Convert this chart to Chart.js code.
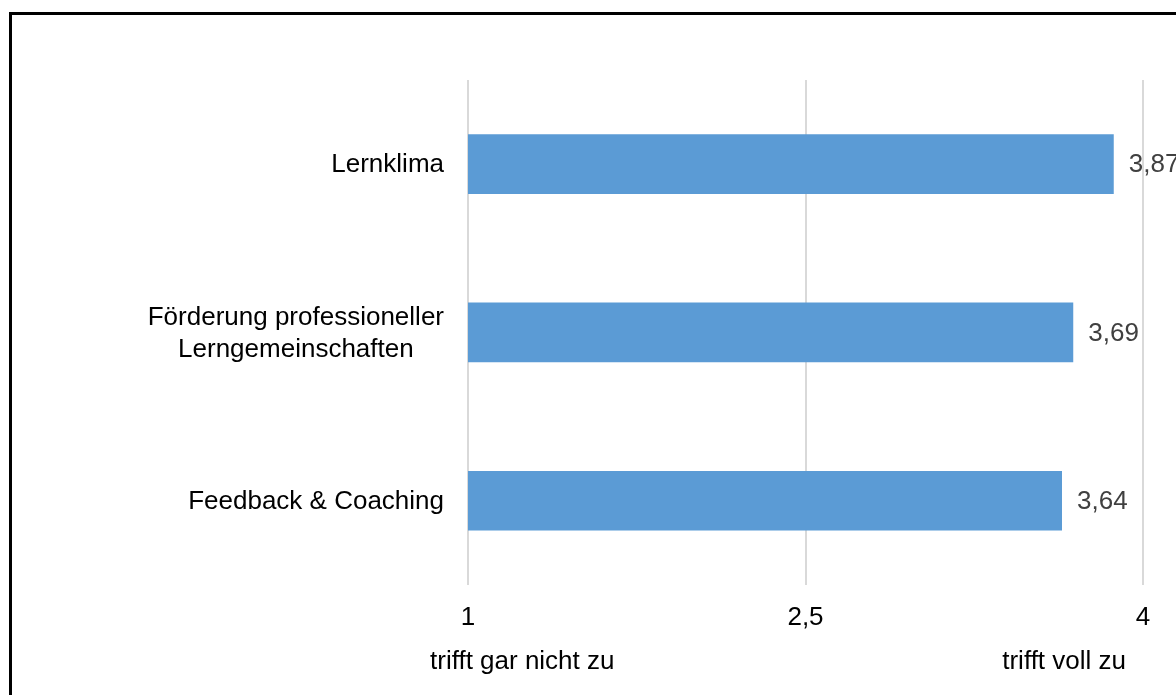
<!DOCTYPE html>
<html lang="de">
<head>
  <meta charset="UTF-8" />
  <title>Lernklima</title>
  <script src="https://cdn.jsdelivr.net/npm/chart.js"></script>
  <style>
    html, body {
      margin: 0;
      padding: 0;
      background: #fff;
      overflow: hidden;
    }
    .wrap {
      position: relative;
      width: 1176px;
      height: 695px;
      overflow: hidden;
    }
    .frame {
      position: absolute;
      left: 9px;
      top: 12px;
      width: 2000px;
      height: 2000px;
      border: 3px solid #000;
      pointer-events: none;
    }
    canvas {
      position: absolute;
      left: 0;
      top: 0;
    }
  </style>
</head>
<body>
  <div class="wrap">
    <canvas id="barChart" width="1176" height="695"></canvas>
    <div class="frame"></div>
  </div>

  <script>
    const categories = [
      'Lernklima',
      ['Förderung professioneller', 'Lerngemeinschaften'],
      'Feedback & Coaching'
    ];
    const values = [3.87, 3.69, 3.64];
    const tickValues = [1, 2.5, 4];
    const scaleEndLabels = ['trifft gar nicht zu', 'trifft voll zu'];

    const FONT = '"Liberation Sans", Arial, sans-serif';
    const fmt = v => String(v).replace('.', ',');

    // category labels: block right-aligned at the axis, lines centered inside the block
    const categoryLabels = {
      id: 'categoryLabels',
      afterDraw(chart) {
        const ctx = chart.ctx;
        const y = chart.scales.y;
        const area = chart.chartArea;
        ctx.save();
        ctx.font = '26px ' + FONT;
        ctx.fillStyle = '#000';
        ctx.textBaseline = 'middle';
        ctx.textAlign = 'center';
        categories.forEach((lab, i) => {
          const lines = Array.isArray(lab) ? lab : [lab];
          const w = Math.max(...lines.map(l => ctx.measureText(l).width));
          const cx = area.left - 24 - w / 2;
          const cy = y.getPixelForValue(i) + 1;
          const lh = 32;
          lines.forEach((l, j) => {
            ctx.fillText(l, cx, cy + (j - (lines.length - 1) / 2) * lh);
          });
        });
        ctx.restore();
      }
    };

    // value labels right of the bars
    const valueLabels = {
      id: 'valueLabels',
      afterDatasetsDraw(chart) {
        const ctx = chart.ctx;
        const meta = chart.getDatasetMeta(0);
        ctx.save();
        ctx.font = '26px ' + FONT;
        ctx.fillStyle = '#404040';
        ctx.textBaseline = 'middle';
        ctx.textAlign = 'left';
        meta.data.forEach((bar, i) => {
          ctx.fillText(fmt(values[i]), bar.x + 15, bar.y + 1);
        });
        ctx.restore();
      }
    };

    // "trifft gar nicht zu" / "trifft voll zu" under the end ticks
    const endLabels = {
      id: 'endLabels',
      afterDraw(chart) {
        const ctx = chart.ctx;
        const x = chart.scales.x;
        const yPos = chart.chartArea.bottom + 77;
        ctx.save();
        ctx.font = '26px ' + FONT;
        ctx.fillStyle = '#000';
        ctx.textBaseline = 'middle';
        ctx.textAlign = 'left';
        ctx.fillText(scaleEndLabels[0], x.getPixelForValue(tickValues[0]) - 38, yPos);
        ctx.textAlign = 'right';
        ctx.fillText(scaleEndLabels[1], x.getPixelForValue(tickValues[2]) - 17, yPos);
        ctx.restore();
      }
    };

    new Chart(document.getElementById('barChart').getContext('2d'), {
      type: 'bar',
      data: {
        labels: categories,
        datasets: [{
          data: values,
          backgroundColor: '#5b9bd5',
          borderWidth: 0,
          categoryPercentage: 0.354,
          barPercentage: 1
        }]
      },
      options: {
        indexAxis: 'y',
        responsive: false,
        animation: false,
        layout: {
          padding: { left: 468, right: 33, top: 80, bottom: 45 }
        },
        plugins: {
          legend: { display: false },
          tooltip: { enabled: false }
        },
        scales: {
          x: {
            min: 1,
            max: 4,
            afterBuildTicks: axis => {
              axis.ticks = tickValues.map(v => ({ value: v }));
            },
            ticks: {
              color: '#000',
              font: { family: FONT, size: 26 },
              padding: 17,
              maxRotation: 0,
              callback: v => fmt(v)
            },
            grid: {
              color: '#d9d9d9',
              lineWidth: 2,
              drawTicks: false
            },
            border: { display: false }
          },
          y: {
            ticks: { display: false },
            grid: { display: false, drawTicks: false },
            border: { display: false }
          }
        }
      },
      plugins: [categoryLabels, valueLabels, endLabels]
    });
  </script>
</body>
</html>
